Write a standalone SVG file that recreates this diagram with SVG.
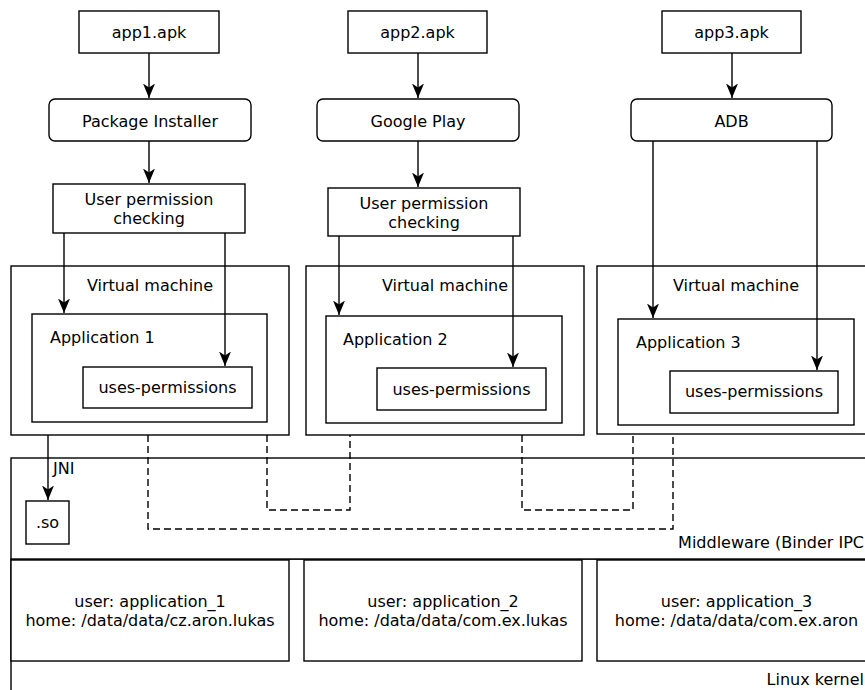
<svg xmlns="http://www.w3.org/2000/svg" width="865" height="690" viewBox="0 0 865 690">
  <style>
    .box { fill: #ffffff; stroke: #000000; stroke-width: 1.4; }
    .frame { fill: none; stroke: #000000; stroke-width: 1.4; }
    .wire { fill: none; stroke: #000000; stroke-width: 1.4; }
    .dash { fill: none; stroke: #000000; stroke-width: 1.4; stroke-dasharray: 7 4; }
    text { font-family: "DejaVu Sans", "Liberation Sans", sans-serif; font-size: 16px; fill: #000000; }
    .mid { text-anchor: middle; }
  </style>
  <defs>
    <marker id="arrow" viewBox="0 0 15 13" refX="14.5" refY="6.5" markerWidth="15" markerHeight="13" markerUnits="userSpaceOnUse" orient="auto">
      <path d="M14.5,6.5 L0,0.5 L4,6.5 L0,12.5 Z" fill="#000000"/>
    </marker>
  </defs>

  <!-- Linux kernel layer -->
  <g id="linux-kernel">
    <rect class="frame" x="11" y="559" width="870" height="150"/>
    <text x="864" y="685" text-anchor="end">Linux kernel</text>
  </g>

  <!-- Middleware layer -->
  <g id="middleware">
    <rect class="box" x="11" y="458" width="870" height="101"/>
    <text x="864" y="548" text-anchor="end">Middleware (Binder IPC</text>
  </g>

  <!-- Per-application Linux users -->
  <g id="user1">
    <rect class="box" x="11" y="560" width="278" height="101"/>
    <text class="mid" x="150" y="607">user: application_1</text>
    <text class="mid" x="150" y="626">home: /data/data/cz.aron.lukas</text>
  </g>
  <g id="user2">
    <rect class="box" x="304" y="560" width="278" height="101"/>
    <text class="mid" x="443" y="607">user: application_2</text>
    <text class="mid" x="443" y="626">home: /data/data/com.ex.lukas</text>
  </g>
  <g id="user3">
    <rect class="box" x="597" y="560" width="279" height="101"/>
    <text class="mid" x="736.5" y="607">user: application_3</text>
    <text class="mid" x="736.5" y="626">home: /data/data/com.ex.aron</text>
  </g>

  <!-- Native library -->
  <g id="so">
    <rect class="box" x="26" y="501" width="43" height="43"/>
    <text class="mid" x="47.5" y="528">.so</text>
  </g>

  <!-- Source packages -->
  <g id="app1-apk">
    <rect class="box" x="79" y="11" width="140" height="42"/>
    <text class="mid" x="149" y="37.5">app1.apk</text>
  </g>
  <g id="app2-apk">
    <rect class="box" x="348" y="11" width="139" height="42"/>
    <text class="mid" x="417.5" y="37.5">app2.apk</text>
  </g>
  <g id="app3-apk">
    <rect class="box" x="662" y="11" width="139" height="42"/>
    <text class="mid" x="731.5" y="37.5">app3.apk</text>
  </g>

  <!-- Installers -->
  <g id="package-installer">
    <rect class="box" x="49" y="99" width="202" height="42" rx="6"/>
    <text class="mid" x="150" y="126.5">Package Installer</text>
  </g>
  <g id="google-play">
    <rect class="box" x="317" y="99" width="202" height="42" rx="6"/>
    <text class="mid" x="418" y="126.5">Google Play</text>
  </g>
  <g id="adb">
    <rect class="box" x="631" y="99" width="201" height="42" rx="6"/>
    <text class="mid" x="731.5" y="126.5">ADB</text>
  </g>

  <!-- Permission checks -->
  <g id="check1">
    <rect class="box" x="53" y="184" width="192" height="49"/>
    <text class="mid" x="149" y="205">User permission</text>
    <text class="mid" x="149" y="224">checking</text>
  </g>
  <g id="check2">
    <rect class="box" x="328" y="188" width="192" height="48"/>
    <text class="mid" x="424" y="208.5">User permission</text>
    <text class="mid" x="424" y="227.5">checking</text>
  </g>

  <!-- Virtual machines with their applications -->
  <g id="vm1">
    <rect class="box" x="11" y="266" width="278" height="169"/>
    <text class="mid" x="150" y="291">Virtual machine</text>
  </g>
  <g id="application1">
    <rect class="box" x="32" y="314" width="235" height="108"/>
    <text x="50" y="343">Application 1</text>
  </g>
  <g id="perm1">
    <rect class="box" x="83" y="367" width="169" height="41"/>
    <text class="mid" x="167.5" y="393">uses-permissions</text>
  </g>

  <g id="vm2">
    <rect class="box" x="306" y="266" width="278" height="169"/>
    <text class="mid" x="445" y="291">Virtual machine</text>
  </g>
  <g id="application2">
    <rect class="box" x="326" y="316" width="236" height="107"/>
    <text x="343" y="345">Application 2</text>
  </g>
  <g id="perm2">
    <rect class="box" x="377" y="368" width="169" height="42"/>
    <text class="mid" x="461.5" y="395">uses-permissions</text>
  </g>

  <g id="vm3">
    <rect class="box" x="597" y="266" width="278" height="168"/>
    <text class="mid" x="736" y="291">Virtual machine</text>
  </g>
  <g id="application3">
    <rect class="box" x="618" y="319" width="236" height="106"/>
    <text x="636" y="348">Application 3</text>
  </g>
  <g id="perm3">
    <rect class="box" x="670" y="371" width="168" height="42"/>
    <text class="mid" x="754" y="397">uses-permissions</text>
  </g>

  <!-- Connectors -->
  <g id="connectors">
    <line class="wire" x1="149" y1="53" x2="149" y2="98" marker-end="url(#arrow)"/>
    <line class="wire" x1="418" y1="53" x2="418" y2="98" marker-end="url(#arrow)"/>
    <line class="wire" x1="732" y1="53" x2="732" y2="98" marker-end="url(#arrow)"/>

    <line class="wire" x1="149" y1="141" x2="149" y2="183" marker-end="url(#arrow)"/>
    <line class="wire" x1="418" y1="141" x2="418" y2="187" marker-end="url(#arrow)"/>

    <line class="wire" x1="64" y1="233" x2="64" y2="313" marker-end="url(#arrow)"/>
    <line class="wire" x1="225" y1="233" x2="225" y2="366" marker-end="url(#arrow)"/>
    <line class="wire" x1="339" y1="236" x2="339" y2="315" marker-end="url(#arrow)"/>
    <line class="wire" x1="513" y1="236" x2="513" y2="367" marker-end="url(#arrow)"/>
    <line class="wire" x1="653" y1="141" x2="653" y2="318" marker-end="url(#arrow)"/>
    <line class="wire" x1="817" y1="141" x2="817" y2="370" marker-end="url(#arrow)"/>

    <!-- JNI call into native code -->
    <line class="wire" x1="48" y1="435" x2="48" y2="500" marker-end="url(#arrow)"/>
    <text x="53" y="474">JNI</text>

    <!-- Binder IPC paths -->
    <polyline class="dash" points="148,435 148,529 673,529 673,434"/>
    <polyline class="dash" points="267,435 267,510 350,510 350,435"/>
    <polyline class="dash" points="522,435 522,510 633,510 633,434"/>
  </g>
</svg>
